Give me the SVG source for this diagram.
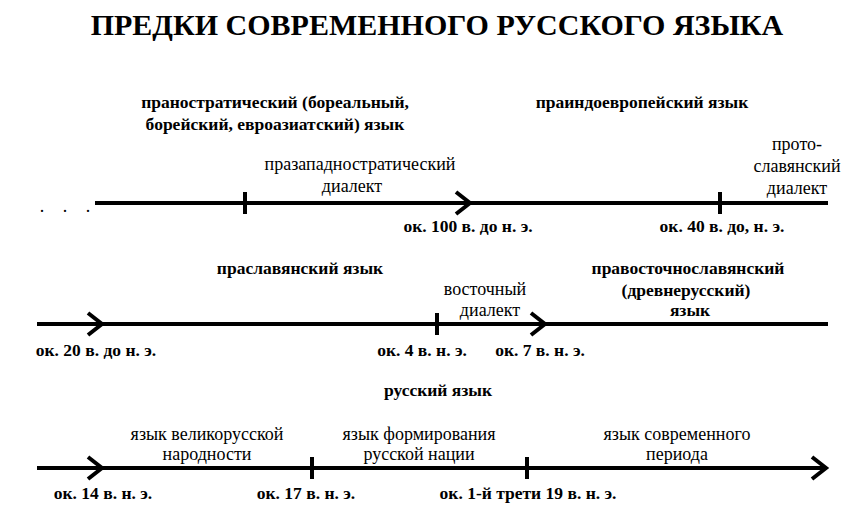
<svg xmlns="http://www.w3.org/2000/svg" width="863" height="521" viewBox="0 0 863 521">
<style>
text{font-family:"Liberation Serif",serif;font-size:18px;fill:#000;text-anchor:middle}
.b{font-weight:bold;font-size:17.5px}
.t{font-size:30px;font-weight:bold}
.ln{stroke:#000;stroke-width:4;fill:none}
.ch{stroke:#000;stroke-width:4;fill:none;stroke-linejoin:miter}
</style>
<rect width="863" height="521" fill="#fff"/>
<text class="t" x="437" y="35">ПРЕДКИ СОВРЕМЕННОГО РУССКОГО ЯЗЫКА</text>
<g id="connectors">
<path class="ln" d="M95 203H828M37 324H828M37 468H824"/>
<path class="ln" d="M245 192V214M720 192V214M437 313V335M312 457V479M527 457V479"/>
<path class="ch" d="M456 192L470 203L456 214M88 313L102 324L88 335M531 313L545 324L531 335M88 457L102 468L88 479M812 457L826 468L812 479"/>
</g>
<g id="row1">
<text x="42" y="212">.</text><text x="65" y="212">.</text><text x="88" y="212">.</text>
<text class="b" x="275" y="108">праностратический (бореальный,</text>
<text class="b" x="275" y="130">борейский, евроазиатский) язык</text>
<text class="b" x="642" y="108">праиндоевропейский язык</text>
<text x="360" y="170">празападностратический</text>
<text x="352" y="192">диалект</text>
<text x="797" y="150">прото-</text>
<text x="797" y="172">славянский</text>
<text x="797" y="194">диалект</text>
<text class="b" x="468" y="232">ок. 100 в. до н. э.</text>
<text class="b" x="722" y="232">ок. 40 в. до, н. э.</text>
</g>
<g id="row2">
<text class="b" x="300" y="274">праславянский язык</text>
<text x="485" y="295">восточный</text>
<text x="490" y="316">диалект</text>
<text class="b" x="688" y="274">правосточнославянский</text>
<text class="b" x="686" y="296">(древнерусский)</text>
<text class="b" x="690" y="316">язык</text>
<text class="b" x="96" y="356">ок. 20 в. до н. э.</text>
<text class="b" x="422" y="356">ок. 4 в. н. э.</text>
<text class="b" x="540" y="356">ок. 7 в. н. э.</text>
</g>
<g id="row3">
<text class="b" x="438" y="396">русский язык</text>
<text x="207" y="440">язык великорусской</text>
<text x="207" y="460">народности</text>
<text x="419" y="440">язык формирования</text>
<text x="419" y="460">русской нации</text>
<text x="677" y="440">язык современного</text>
<text x="677" y="460">периода</text>
<text class="b" x="103" y="499">ок. 14 в. н. э.</text>
<text class="b" x="306" y="499">ок. 17 в. н. э.</text>
<text class="b" x="528" y="499">ок. 1-й трети 19 в. н. э.</text>
</g>
</svg>
